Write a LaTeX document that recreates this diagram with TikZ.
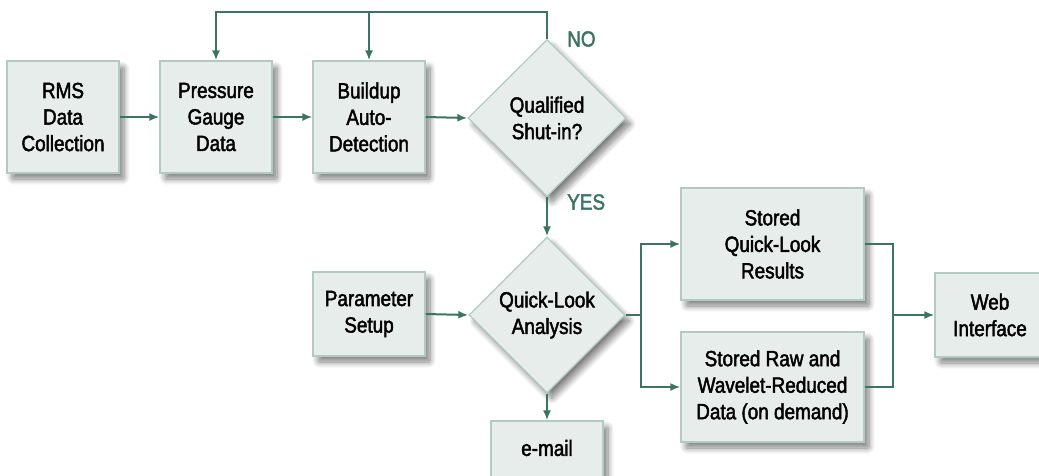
\documentclass[tikz,border=0pt]{standalone}
\usepackage{fontspec}
\setmainfont{Liberation Sans}[FakeStretch=0.86, FakeBold=2]
\usetikzlibrary{shapes.geometric,arrows.meta,shadows.blur}

\definecolor{boxfill}{HTML}{E7EDEA}
\definecolor{boxedge}{HTML}{B2CAC0}
\definecolor{flow}{HTML}{3B7462}

\tikzset{
  softshadow/.style={blur shadow={shadow xshift=5pt, shadow yshift=-6pt,
      shadow blur radius=6pt, shadow blur steps=10, shadow opacity=50,
      shadow blur extra rounding=1pt}},
  stepbox/.style={draw=boxedge, line width=1.2pt, fill=boxfill, softshadow,
      rectangle, inner sep=0pt, align=center, font=\fontsize{22}{26.5}\selectfont},
  decision/.style={draw=boxedge, line width=1.2pt, fill=boxfill, softshadow,
      diamond, inner sep=0pt, align=center, font=\fontsize{22}{26.5}\selectfont},
  flowline/.style={draw=flow, line width=2pt},
  flowarrow/.style={flowline, -{Latex[length=10pt,width=8pt]}},
  tag/.style={text=flow, font=\fontsize{22}{26.5}\selectfont, inner sep=0pt},
}

\begin{document}
\begin{tikzpicture}[x=1pt, y=-1pt]
  \useasboundingbox (0,0) rectangle (1039,475);
  \clip (0,0) rectangle (1039,475);

  % upper row
  \node[stepbox, minimum width=112pt, minimum height=112pt] (rms) at (63,117) {RMS\\Data\\Collection};
  \node[stepbox, minimum width=112pt, minimum height=112pt] (pgd) at (216,117) {Pressure\\Gauge\\Data};
  \node[stepbox, minimum width=112pt, minimum height=112pt] (bad) at (369,117) {Buildup\\Auto-\\Detection};
  \node[decision, minimum width=158pt, minimum height=157pt] (q1) at (547,118) {Qualified\\Shut-in?};

  % lower part
  \node[stepbox, minimum width=112pt, minimum height=84pt] (ps) at (369,314) {Parameter\\Setup};
  \node[decision, minimum width=156pt, minimum height=156pt] (q2) at (547,315) {Quick-Look\\Analysis};
  \node[stepbox, minimum width=112pt, minimum height=84pt] (em) at (547,463) {};
  \node[font=\fontsize{22}{26.5}\selectfont, inner sep=0pt] (emtxt) at (547,448) {e-mail};
  \node[stepbox, minimum width=183pt, minimum height=112pt] (sqr) at (772.5,244) {Stored\\Quick-Look\\Results};
  \node[stepbox, minimum width=183pt, minimum height=110pt] (srw) at (772.5,387) {Stored Raw and\\Wavelet-Reduced\\Data (on demand)};
  \node[stepbox, minimum width=110pt, minimum height=84pt] (web) at (990,315) {Web\\Interface};

  % labels
  \node[tag, anchor=west] (no) at (567,39) {NO};
  \node[tag, anchor=west] (yes) at (567,202) {YES};

  % helper points
  \coordinate (top) at (547,12);
  \coordinate (split) at (641,315);
  \coordinate (merge) at (893,315);

  % connectors
  \draw[flowarrow] (rms.east) -- (pgd.west);
  \draw[flowarrow] (pgd.east) -- (bad.west);
  \draw[flowarrow] (bad.east) -- (q1.west);
  \draw[flowarrow] (q1.north) -- (top) -| (pgd.north);
  \draw[flowarrow] (bad.north |- top) -- (bad.north);
  \draw[flowarrow] (q1.south) -- (q2.north);
  \draw[flowarrow] (ps.east) -- (q2.west);
  \draw[flowarrow] (q2.south) -- (em.north);
  \draw[flowline] (q2.east) -- (split);
  \draw[flowarrow] (split) |- (sqr.west);
  \draw[flowarrow] (split) |- (srw.west);
  \draw[flowline] (sqr.east) -| (merge);
  \draw[flowline] (srw.east) -| (merge);
  \draw[flowarrow] (merge) -- (web.west);
\end{tikzpicture}
\end{document}
